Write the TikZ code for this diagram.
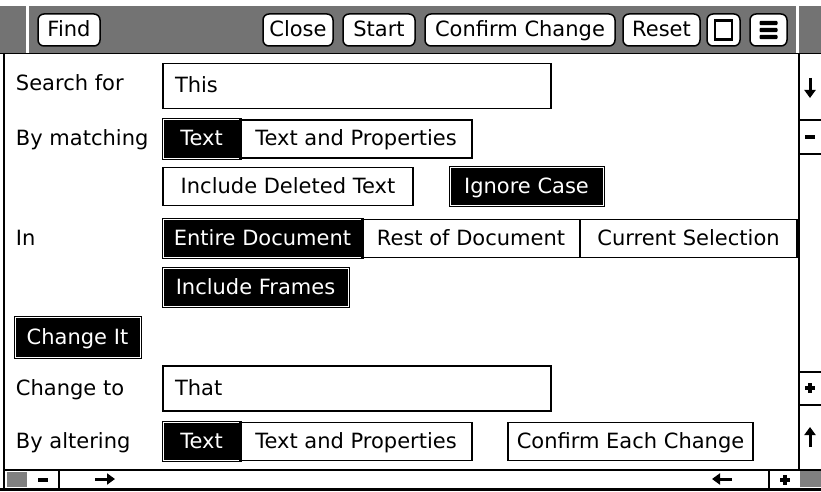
\documentclass[tikz,border=0pt]{standalone}
\usepackage{fontspec}
\setmainfont{DejaVu Sans}
\usepackage{tikz}
\usetikzlibrary{positioning}
\usetikzlibrary{calc}
\usetikzlibrary{arrows.meta}
\newcommand{\uifont}{\fontsize{21}{25}\selectfont}

\begin{document}
\begin{tikzpicture}[x=1pt,y=-1pt,every node/.style={inner sep=0pt,outer sep=0pt,font=\uifont,text height=15pt,text depth=1pt},
    lbl/.style={anchor=west},
    opt/.style={draw,line width=1.2pt,minimum height=38pt},
    sel/.style={opt,fill=black,text=white,line width=1pt,double=white,double distance=1pt},
    field/.style={draw,line width=1.2pt,anchor=west,minimum height=45pt,text width=364pt,inner xsep=12pt,align=left},
    tbtn/.style={draw,fill=white,rounded corners=6pt,line width=1.5pt,minimum height=32pt,anchor=west},
    scrollarrow/.style={line width=3pt,-{Triangle[length=8pt,width=11pt]}},
    hatch/.style={fill=black!55}]
    \useasboundingbox (0,0) rectangle (821,492);

    % title bar
    \fill[hatch] (0,6) rectangle (821,53);
    \draw[white,line width=3pt] (27,6) -- (27,53) (797,6) -- (797,53);
    \draw[line width=0.8pt] (0,53) -- (821,53);
    \node[tbtn,minimum width=62pt] (find) at (38,30) {Find};
    \node[tbtn,minimum width=70pt] (close) at (263,30) {Close};
    \node[tbtn,minimum width=72pt,right=10pt of close] (start) {Start};
    \node[tbtn,minimum width=190pt,right=10pt of start] (confirm) {Confirm Change};
    \node[tbtn,minimum width=77pt,right=8pt of confirm] (reset) {Reset};
    \node[tbtn,minimum width=33pt,right=7pt of reset] (window) {};
    \node[tbtn,minimum width=37pt,right=10pt of window] (menu) {};
    \node[draw,line width=2.5pt,minimum width=17pt,minimum height=19pt,text height=0pt,text depth=0pt] (winframe) at (window) {};
    \foreach \dy in {-7,0,7}
        \fill[rounded corners=1pt] ($(menu.center)+(-9,\dy-2.2)$) rectangle ++(18,4.4);

    % frame, scroll bar and bottom bar
    \draw[line width=1.5pt] (4,53) -- (4,490);
    \draw[line width=1.2pt] (799,53) -- (799,470);
    \foreach \y in {120,154,372,405}
        \draw[line width=1.2pt] (799,\y) -- (821,\y);
    \draw[line width=1.2pt] (4,470) -- (821,470);
    \draw[line width=3pt] (0,489) -- (821,489);
    \fill[black!50] (7,472) rectangle (27,487);
    \fill[black!50] (800,471) rectangle (821,487);
    \draw[line width=1.2pt] (59,470) -- (59,488) (769,470) -- (769,488);
    % arrows of the scroll bars
    \foreach \name/\x/\y/\dx/\dy in {down/810/88/0/1,up/810/437/0/-1,right/105/479/1/0,left/722/479/-1/0} {
        \coordinate (\name tail) at ($(\x,\y)-(\dx*10,\dy*10)$);
        \coordinate (\name tip) at ($(\x,\y)+(\dx*10,\dy*10)$);
        \draw[scrollarrow] (\name tail) -- (\name tip);
    }
    % minus and plus boxes
    \foreach \x/\y in {810/137,43/480}
        \fill (\x-5,\y-2) rectangle (\x+5,\y+2);
    \foreach \x/\y in {810/388,785/480} {
        \fill (\x-5,\y-1.7) rectangle (\x+5,\y+1.7);
        \fill (\x-1.7,\y-5) rectangle (\x+1.7,\y+5);
    }

    % search part
    \node[lbl] (searchlbl) at (16,84) {Search for};
    \node[field] (search) at (163,86) {This};
    \node[lbl] (matchlbl) at (16,139) {By matching};
    \node[sel,anchor=west,minimum width=77pt] (mtext) at (163,139) {Text};
    \node[opt,minimum width=232pt,right=0pt of mtext] (mprops) {Text and Properties};
    \node[opt,anchor=west,minimum width=250pt] (deleted) at (163,186.5) {Include Deleted Text};
    \node[sel,minimum width=153pt,right=37pt of deleted] (case) {Ignore Case};
    \node[lbl] (inlbl) at (16,238.5) {In};
    \node[sel,anchor=west,minimum width=199pt] (entire) at (163,238.5) {Entire Document};
    \node[opt,minimum width=218pt,right=0pt of entire] (rest) {Rest of Document};
    \node[opt,minimum width=217pt,right=0pt of rest] (current) {Current Selection};
    \node[sel,anchor=west,minimum width=185pt] (frames) at (163,287.5) {Include Frames};

    % change part
    \node[sel,anchor=west,minimum width=125pt,minimum height=40pt] (changeit) at (15,337) {Change It};
    \node[lbl] (changelbl) at (16,388.5) {Change to};
    \node[field] (change) at (163,388.5) {That};
    \node[lbl] (alterlbl) at (16,441.5) {By altering};
    \node[sel,anchor=west,minimum width=77pt] (atext) at (163,441.5) {Text};
    \node[opt,minimum width=232pt,right=0pt of atext] (aprops) {Text and Properties};
    \node[opt,minimum width=245pt,right=36pt of aprops] (each) {Confirm Each Change};
\end{tikzpicture}
\end{document}
